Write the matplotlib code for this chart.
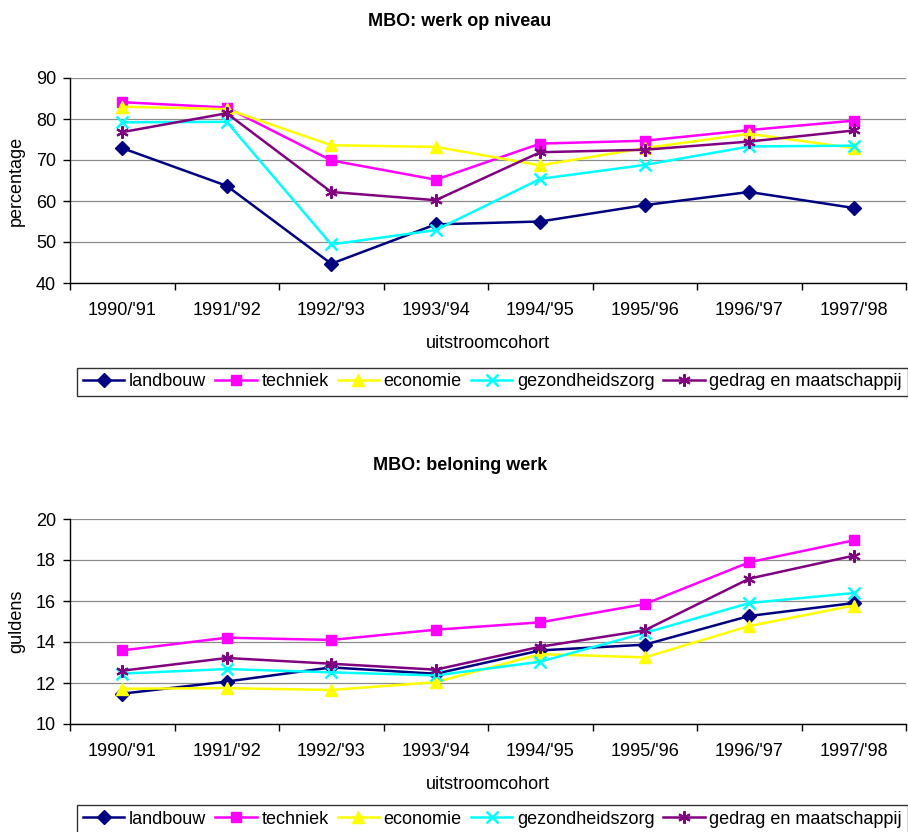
import matplotlib
matplotlib.use("Agg")
import matplotlib.pyplot as plt
import numpy as np

plt.rcParams['font.family'] = ['Liberation Sans', 'DejaVu Sans']

categories = ["1990/'91", "1991/'92", "1992/'93", "1993/'94", "1994/'95", "1995/'96", "1996/'97", "1997/'98"]
series_names = ["landbouw", "techniek", "economie", "gezondheidszorg", "gedrag en maatschappij"]

# MBO: werk op niveau (percentage)
werk_landbouw = [72.9, 63.7, 44.7, 54.3, 55.0, 59.0, 62.2, 58.3]
werk_techniek = [84.1, 82.8, 69.9, 65.2, 74.0, 74.7, 77.3, 79.6]
werk_economie = [83.0, 82.4, 73.6, 73.2, 68.7, 72.9, 76.4, 72.9]
werk_gezondheid = [79.2, 79.3, 49.4, 52.9, 65.4, 68.8, 73.3, 73.5]
werk_gedrag = [76.8, 81.4, 62.2, 60.2, 71.9, 72.5, 74.5, 77.2]

# MBO: beloning werk (guldens)
bel_landbouw = [11.48, 12.07, 12.76, 12.45, 13.59, 13.87, 15.27, 15.90]
bel_techniek = [13.59, 14.21, 14.10, 14.60, 14.96, 15.85, 17.89, 18.96]
bel_economie = [11.72, 11.75, 11.66, 12.04, 13.41, 13.25, 14.78, 15.78]
bel_gezondheid = [12.46, 12.68, 12.52, 12.37, 13.04, 14.44, 15.90, 16.39]
bel_gedrag = [12.60, 13.22, 12.94, 12.65, 13.77, 14.57, 17.09, 18.21]

colors = ["#000080", "#FF00FF", "#FFFF00", "#00FFFF", "#800080"]
markers = ["D", "s", "^", "x", (6, 2, 0)]
msizes = [7, 7, 9, 8, 9]
mews = [1, 1, 1, 1.8, 1.5]

W, H = 908, 832
fig = plt.figure(figsize=(W / 100, H / 100), dpi=100)

def fx(px):
    return px / W

def fy(py):
    return 1 - py / H

def make_panel(top_px, bottom_px, series, ylim, yticks, ylabel, title, title_y, legend_y):
    ax = fig.add_axes([fx(70), fy(bottom_px), fx(906) - fx(70), fy(top_px) - fy(bottom_px)])
    x = np.arange(len(categories))
    handles = []
    for vals, c, m, ms, mew, name in zip(series, colors, markers, msizes, mews, series_names):
        h, = ax.plot(x, vals, color=c, marker=m, markersize=ms, markeredgewidth=mew,
                     markerfacecolor=c, markeredgecolor=c, lw=1.8, label=name, clip_on=False)
        handles.append(h)
    ax.set_xlim(-0.5, len(categories) - 0.5)
    ax.set_ylim(*ylim)
    ax.set_yticks(yticks)
    ax.set_xticks(np.arange(len(categories) + 1) - 0.5)
    ax.set_xticklabels([])
    ax.set_xticks(x, minor=True)
    ax.set_xticklabels(categories, minor=True)
    ax.tick_params(axis='x', which='major', direction='out', length=5, width=1, color='black')
    ax.tick_params(axis='x', which='minor', length=0, pad=14, labelsize=13)
    ax.tick_params(axis='y', direction='out', length=5, width=1, pad=5, labelsize=13)
    for s in ['top', 'right']:
        ax.spines[s].set_visible(False)
    for s in ['left', 'bottom']:
        ax.spines[s].set_color('black')
        ax.spines[s].set_linewidth(1)
    ax.yaxis.grid(True, color='#8c8c8c', lw=0.9)
    ax.set_axisbelow(True)
    ax.set_ylabel(ylabel, fontsize=13, labelpad=8)
    ax.set_xlabel("uitstroomcohort", fontsize=13, labelpad=11)
    fig.text(fx(460), fy(title_y), title, ha='center', va='center', fontsize=13, fontweight='bold')
    leg = fig.legend(handles=handles, loc='center', bbox_to_anchor=(fx(492.5), fy(legend_y)),
                     ncol=5, frameon=True, fancybox=False, edgecolor='black', fontsize=13,
                     handlelength=2.3, handletextpad=0.25, columnspacing=0.5, borderpad=0.3,
                     borderaxespad=0)
    leg.get_frame().set_linewidth(1)
    return ax

make_panel(78, 283,
           [werk_landbouw, werk_techniek, werk_economie, werk_gezondheid, werk_gedrag],
           (40, 90), [40, 50, 60, 70, 80, 90], "percentage", "MBO: werk op niveau", 22, 382)
make_panel(519, 724,
           [bel_landbouw, bel_techniek, bel_economie, bel_gezondheid, bel_gedrag],
           (10, 20), [10, 12, 14, 16, 18, 20], "guldens", "MBO: beloning werk", 466, 819)

fig.savefig("out.png", dpi=100)
